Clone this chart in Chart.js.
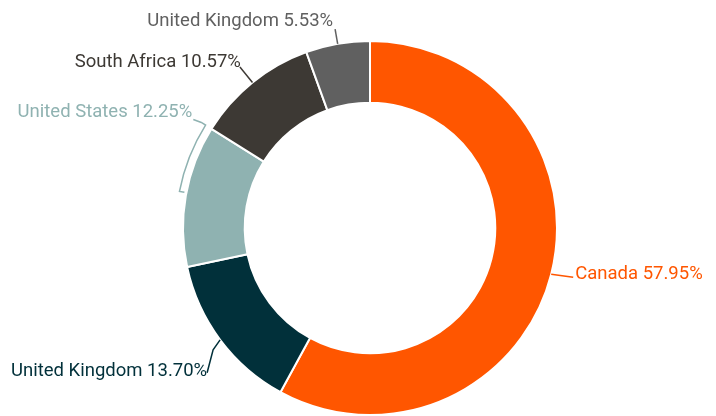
<!DOCTYPE html>
<html>
<head>
<meta charset="utf-8">
<script src="https://cdn.jsdelivr.net/npm/chart.js@4/dist/chart.umd.min.js"></script>
<style>
  html, body { margin: 0; padding: 0; background: #fff; }
  #wrap { width: 716px; height: 416px; }
</style>
</head>
<body>
<div id="wrap"><canvas id="c" width="716" height="416"></canvas></div>
<script>
var countries = ['Canada', 'United Kingdom', 'United States', 'South Africa', 'United Kingdom'];
var shares = [57.95, 13.70, 12.25, 10.57, 5.53];
var colors = ['#ff5600', '#01303a', '#8fb2b1', '#3d3934', '#606060'];
var textColors = ['#ff5600', '#01303a', '#8fb2b1', '#3d3934', '#606060'];

// leader line shapes, one per slice
var leaders = [
  {type: 'offset', pts: [[22, 3]], align: 'left', dx: 2, dy: 2},
  {type: 'offset', pts: [[-7, 10], [-13, 33]], align: 'right', dx: 0, dy: 3},
  {type: 'bracket', from: 0.52, gap: 7, tick: 5, tail: [-8, -3], align: 'right', dx: -1, dy: -2},
  {type: 'radial', len: 20, align: 'right', dx: 1, dy: 0},
  {type: 'radial', len: 15, align: 'right', dx: -2, dy: -3}
];

var labelPlugin = {
  id: 'sliceLabels',
  afterDatasetsDraw: function (chart) {
    var ctx = chart.ctx;
    var meta = chart.getDatasetMeta(0);
    ctx.save();
    ctx.font = '18.5px Roboto';
    ctx.lineWidth = 1.5;
    ctx.textBaseline = 'alphabetic';
    meta.data.forEach(function (arc, i) {
      var p = arc.getProps(['x', 'y', 'startAngle', 'endAngle', 'outerRadius'], true);
      var L = leaders[i];
      var mid = (p.startAngle + p.endAngle) / 2;
      var pt = function (a, r) { return [p.x + Math.cos(a) * r, p.y + Math.sin(a) * r]; };
      var s = pt(mid, p.outerRadius);
      var end;
      ctx.strokeStyle = colors[i];
      ctx.beginPath();
      if (L.type === 'radial') {
        end = pt(mid, p.outerRadius + L.len);
        ctx.moveTo(s[0], s[1]);
        ctx.lineTo(end[0], end[1]);
      } else if (L.type === 'offset') {
        ctx.moveTo(s[0], s[1]);
        L.pts.forEach(function (o) { end = [s[0] + o[0], s[1] + o[1]]; ctx.lineTo(end[0], end[1]); });
      } else {
        var a0 = p.startAngle + L.from * (p.endAngle - p.startAngle);
        var a1 = p.endAngle;
        var r = p.outerRadius + L.gap;
        var b0 = pt(a0, r - L.tick);
        ctx.moveTo(b0[0], b0[1]);
        ctx.arc(p.x, p.y, r, a0, a1);
        var t = pt(a1, r + L.tick);
        ctx.lineTo(t[0], t[1]);
        end = [t[0] + L.tail[0], t[1] + L.tail[1]];
        ctx.lineTo(end[0], end[1]);
      }
      ctx.stroke();
      ctx.fillStyle = textColors[i];
      ctx.textAlign = L.align;
      ctx.fillText(countries[i] + ' ' + shares[i].toFixed(2) + '%', end[0] + L.dx, end[1] + L.dy);
    });
    ctx.restore();
  }
};

new Chart(document.getElementById('c'), {
  type: 'doughnut',
  data: {
    labels: countries,
    datasets: [{
      data: shares,
      backgroundColor: colors,
      borderColor: '#ffffff',
      borderWidth: 2
    }]
  },
  options: {
    responsive: false,
    animation: false,
    cutout: '67%',
    layout: {padding: {top: 40, bottom: 0, left: 24, right: 0}},
    plugins: {legend: {display: false}, tooltip: {enabled: false}}
  },
  plugins: [labelPlugin]
});
</script>
</body>
</html>
